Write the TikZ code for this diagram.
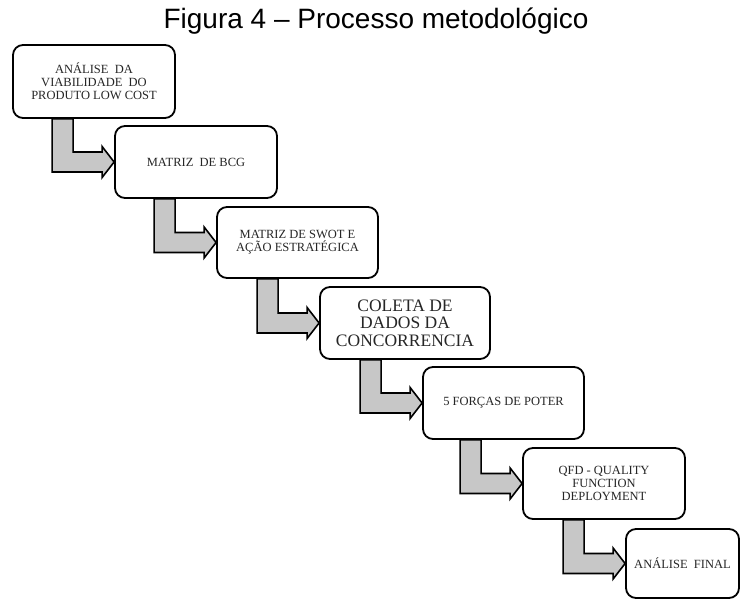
\documentclass[tikz,border=0pt]{standalone}
\usepackage{fontspec}
\setmainfont{Liberation Serif}
\newfontfamily\titlefont{Liberation Sans}
\usetikzlibrary{calc,backgrounds}

\tikzset{
  stagebox/.style={draw=black, line width=1.8pt, rounded corners=10pt, fill=white,
    align=center, inner sep=0pt, text=black!85,
    font=\fontsize{12.5}{13}\selectfont},
  bigtext/.style={font=\fontsize{17.5}{17.5}\selectfont},
  flowarrow/.style={draw=black, line width=1.6pt, fill=black!22, line join=miter},
}

% Elbow block arrow: drops from the bottom of #1, turns right into the left side of #2
\newcommand{\elbowarrow}[2]{%
  \path[flowarrow] let \p1=(#1.south), \p2=(#2.west) in
    (\x2-62pt,\y1) -- (\x2-41pt,\y1) -- (\x2-41pt,\y2+10pt) -- (\x2-12pt,\y2+10pt)
    -- (\x2-12pt,\y2+15.5pt) -- (\x2,\y2) -- (\x2-12pt,\y2-15.5pt)
    -- (\x2-12pt,\y2-10pt) -- (\x2-62pt,\y2-10pt) -- cycle;}

\begin{document}
\begin{tikzpicture}[x=1pt, y=-1pt]
  \useasboundingbox (0,0) rectangle (741,599);

  \node[font=\titlefont\fontsize{28}{28}\selectfont, anchor=base] (title) at (376,29)
    {Figura 4 – Processo metodológico};

  \node[stagebox, minimum width=162, minimum height=73] (s1) at (94,81.5)
    {ANÁLISE\hspace{0.5em}DA\\VIABILIDADE\hspace{0.5em}DO\\PRODUTO LOW COST};
  \node[stagebox, minimum width=162, minimum height=72] (s2) at (196,162)
    {MATRIZ\hspace{0.5em}DE BCG};
  \node[stagebox, minimum width=161, minimum height=71] (s3) at (297.5,242.5)
    {MATRIZ DE SWOT E\\AÇÃO ESTRATÉGICA};
  \node[stagebox, bigtext, minimum width=170, minimum height=72] (s4) at (405,323)
    {COLETA DE\\DADOS DA\\CONCORRENCIA};
  \node[stagebox, minimum width=161, minimum height=72] (s5) at (503.5,403)
    {5 FORÇAS DE POTER};
  \node[stagebox, minimum width=162, minimum height=71] (s6) at (604,483.5)
    {QFD - QUALITY\\FUNCTION\\DEPLOYMENT};
  \node[stagebox, minimum width=113, minimum height=69] (s7) at (682.5,563.5)
    {ANÁLISE\hspace{0.5em}FINAL};

  \begin{scope}[on background layer]
    \elbowarrow{s1}{s2}
    \elbowarrow{s2}{s3}
    \elbowarrow{s3}{s4}
    \elbowarrow{s4}{s5}
    \elbowarrow{s5}{s6}
    \elbowarrow{s6}{s7}
  \end{scope}
\end{tikzpicture}
\end{document}
